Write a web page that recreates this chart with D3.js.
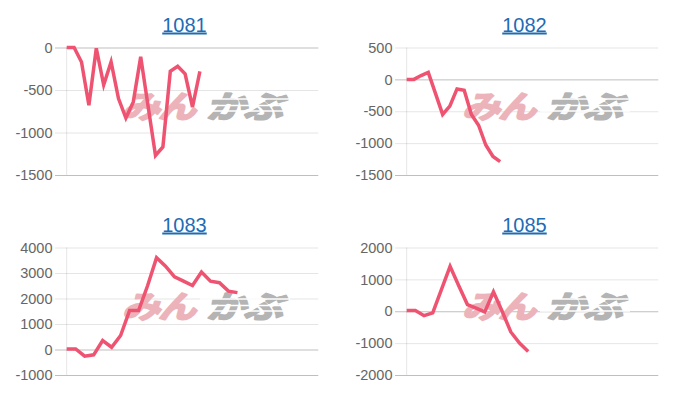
<!DOCTYPE html>
<html>
<head>
<meta charset="utf-8">
<script src="https://cdn.jsdelivr.net/npm/d3@7"></script>
<style>
  body { margin: 0; background: #fff; }
  svg { display: block; font-family: "Liberation Sans", Arial, sans-serif; }
</style>
</head>
<body>
<div id="root"></div>
<script>
const titles = ['1081', '1082', '1083', '1085']

// daily balance per machine
const values1081 = [0, 0, -170, -680, -10, -440, -170, -600, -830, -640, -110, -690, -1270, -1170, -280, -220, -310, -700, -280]
const values1082 = [0, 0, 60, 110, -220, -550, -420, -150, -170, -550, -720, -1030, -1210, -1290]
const values1083 = [20, 20, -260, -210, 350, 90, 550, 1530, 1530, 2500, 3600, 3270, 2850, 2680, 2510, 3040, 2680, 2620, 2290, 2230]
const values1085 = [20, 20, -140, -50, 680, 1410, 800, 210, 100, -20, 610, 0, -650, -1000, -1260]

const yTicks1081 = [0, -500, -1000, -1500]
const yTicks1082 = [500, 0, -500, -1000, -1500]
const yTicks1083 = [4000, 3000, 2000, 1000, 0, -1000]
const yTicks1085 = [2000, 1000, 0, -1000, -2000]

// number of day slots on each x axis
const daySlots = [34, 35, 28, 29]

const allValues = [values1081, values1082, values1083, values1085]
const allTicks = [yTicks1081, yTicks1082, yTicks1083, yTicks1085]

const width = 700
const height = 400
const plotLeft = 66.7
const plotRight = 318.3
const plotTop = 47.5
const plotBottom = 175
const lineColor = '#ee5371'

const svg = d3.select('#root').append('svg')
  .attr('width', width)
  .attr('height', height)

titles.forEach((title, i) => {
  const ox = (i % 2) * 340
  const oy = Math.floor(i / 2) * 200
  const values = allValues[i]
  const ticks = allTicks[i]

  const g = svg.append('g').attr('transform', 'translate(' + ox + ',' + oy + ')')

  g.append('text')
    .attr('x', 184.5)
    .attr('y', 31.5)
    .attr('text-anchor', 'middle')
    .attr('font-size', 20)
    .attr('fill', '#1d6cb5')
    .style('text-decoration', 'underline')
    .text(title)

  const x = d3.scaleLinear().domain([0, daySlots[i]]).range([plotLeft, plotRight])
  const y = d3.scaleLinear().domain(d3.extent(ticks)).range([plotBottom, plotTop])

  const yAxis = g.append('g')
    .attr('transform', 'translate(55,0)')
    .call(d3.axisLeft(y).tickValues(ticks).tickFormat(d => String(d))
      .tickSize(-(plotRight - 55)).tickPadding(2.5))

  yAxis.select('.domain').remove()
  yAxis.selectAll('.tick line')
    .attr('stroke', d => (d === 0 || d === ticks[ticks.length - 1]) ? 'rgba(0,0,0,0.25)' : 'rgba(0,0,0,0.1)')
  yAxis.selectAll('.tick text')
    .attr('fill', '#666')
    .attr('font-size', 14.5)
    .attr('font-family', '"Liberation Sans", Arial, sans-serif')

  g.append('line')
    .attr('x1', plotLeft).attr('x2', plotLeft)
    .attr('y1', plotTop).attr('y2', plotBottom)
    .attr('stroke', 'rgba(0,0,0,0.1)')

  // watermark
  const wm = g.append('g')
    .attr('font-family', '"Noto Sans CJK JP", sans-serif')
    .attr('font-weight', 700)
    .attr('font-size', 36)
    .attr('stroke-width', 2.2)
    .attr('stroke-linejoin', 'round')
  wm.append('text')
    .attr('transform', 'translate(122,118) skewX(-16) scale(1.06,0.86)')
    .attr('letter-spacing', -2)
    .attr('fill', 'rgb(236,180,186)')
    .attr('stroke', 'rgb(236,180,186)')
    .text('みん')
  wm.append('text')
    .attr('transform', 'translate(206,118) skewX(-16) scale(1.1,0.86)')
    .attr('letter-spacing', -2)
    .attr('fill', 'rgb(180,180,180)')
    .attr('stroke', 'rgb(180,180,180)')
    .text('かぶ')
  ;[99, 105.5, 111].forEach(yy => {
    wm.append('line')
      .attr('x1', 200).attr('x2', 290)
      .attr('y1', yy).attr('y2', yy)
      .attr('stroke', '#fff')
      .attr('stroke-width', 1.3)
  })

  const line = d3.line()
    .x((d, j) => x(j))
    .y(d => y(d))

  g.append('path')
    .datum(values)
    .attr('d', line)
    .attr('fill', 'none')
    .attr('stroke', lineColor)
    .attr('stroke-width', 3.5)
})
</script>
</body>
</html>
